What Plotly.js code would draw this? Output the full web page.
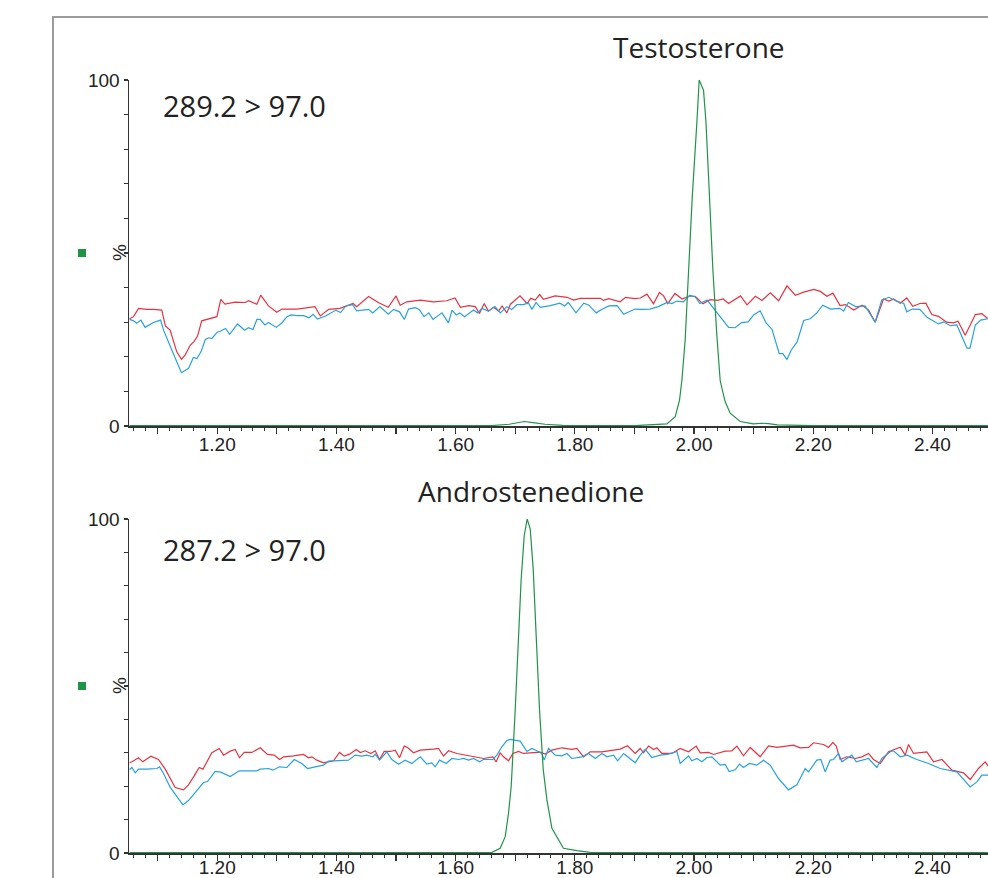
<!DOCTYPE html>
<html>
<head>
<meta charset="utf-8">
<script src="https://cdn.plot.ly/plotly-3.0.1.min.js"></script>
<style>
  html, body { margin: 0; padding: 0; background: #fff; }
  #chart { width: 988px; height: 878px; }
</style>
</head>
<body>
<div id="chart"></div>
<script>
// ---------- Data (retention time in min, intensity in %) ----------
const titles = ["Testosterone", "Androstenedione"];
const transitions = ["289.2 > 97.0", "287.2 > 97.0"];
const xTickVals = [1.1, 1.2, 1.3, 1.4, 1.5, 1.6, 1.7, 1.8, 1.9, 2.0, 2.1, 2.2, 2.3, 2.4];
const xTickText = ["", "1.20", "", "1.40", "", "1.60", "", "1.80", "", "2.00", "", "2.20", "", "2.40"];
const yTickVals = [0, 10, 20, 30, 40, 50, 60, 70, 80, 90, 100];
const yTickText = ["0", "", "", "", "", "", "", "", "", "", "100"];

// Testosterone panel
const topRedT = [1.053,1.0596,1.068,1.082,1.093,1.107,1.113,1.121,1.132,1.140,1.146,1.155,1.161,1.167,1.174,1.191,1.1995,1.206,1.213,1.230,1.247,1.2525,1.2666,1.273,1.286,1.300,1.3085,1.334,1.364,1.373,1.387,1.406,1.428,1.434,1.454,1.471,1.487,1.500,1.507,1.518,1.541,1.563,1.585,1.599,1.608,1.622,1.633,1.640,1.648,1.655,1.664,1.672,1.678,1.686,1.692,1.708,1.720,1.726,1.7335,1.741,1.7475,1.767,1.787,1.798,1.809,1.843,1.848,1.857,1.876,1.885,1.901,1.910,1.921,1.932,1.942,1.949,1.956,1.968,1.980,1.991,2.002,2.015,2.027,2.039,2.049,2.058,2.078,2.089,2.103,2.114,2.128,2.142,2.156,2.170,2.184,2.201,2.212,2.223,2.233,2.245,2.254,2.268,2.282,2.293,2.304,2.318,2.327,2.335,2.346,2.357,2.367,2.379,2.389,2.399,2.410,2.424,2.435,2.443,2.455,2.472,2.483,2.493];
const topRedV = [31.0,31.6,34.0,33.7,33.7,33.5,28.9,27.7,21.5,19.3,20.5,23.4,24.4,26.0,30.4,31.3,31.6,36.6,35.2,35.8,35.7,36.2,35.2,37.8,34.7,32.9,33.8,33.8,34.5,31.8,33.7,34.0,35.4,34.5,37.4,35.6,34.3,37.6,34.9,35.9,36.4,35.9,36.2,37.0,34.3,34.8,34.5,32.5,35.4,33.2,34.3,33.2,34.7,32.7,35.2,37.6,35.4,36.9,36.4,38.0,36.6,37.6,37.2,36.4,36.9,36.9,36.3,36.8,35.9,37.2,36.8,37.0,38.1,35.3,38.6,37.6,35.4,38.3,36.7,37.5,37.5,35.3,36.5,36.3,36.7,35.4,37.6,35.0,37.5,36.3,38.5,36.2,40.5,37.8,38.7,39.5,38.9,37.5,38.4,34.8,35.1,33.5,34.9,33.5,30.0,36.7,36.1,36.7,35.5,37.0,34.6,35.4,35.5,32.2,31.7,30.0,29.8,30.3,26.2,32.2,32.5,31.0];

const topBlueT = [1.053,1.0596,1.065,1.072,1.079,1.093,1.105,1.110,1.124,1.140,1.152,1.160,1.166,1.173,1.180,1.186,1.191,1.200,1.205,1.214,1.221,1.234,1.246,1.2525,1.260,1.2666,1.272,1.280,1.286,1.299,1.308,1.317,1.324,1.334,1.345,1.354,1.361,1.368,1.382,1.399,1.407,1.416,1.427,1.434,1.454,1.461,1.473,1.487,1.496,1.506,1.514,1.521,1.532,1.539,1.547,1.555,1.562,1.577,1.588,1.594,1.601,1.607,1.615,1.630,1.637,1.644,1.655,1.666,1.675,1.686,1.694,1.703,1.714,1.722,1.728,1.735,1.742,1.759,1.775,1.783,1.789,1.802,1.815,1.823,1.836,1.845,1.857,1.871,1.882,1.901,1.913,1.926,1.940,1.955,1.963,1.971,1.982,1.993,2.002,2.010,2.022,2.044,2.058,2.069,2.080,2.091,2.100,2.111,2.121,2.131,2.143,2.149,2.156,2.163,2.173,2.184,2.195,2.206,2.216,2.229,2.245,2.251,2.259,2.271,2.287,2.304,2.315,2.327,2.341,2.352,2.357,2.366,2.379,2.391,2.410,2.419,2.430,2.441,2.448,2.458,2.463,2.472,2.481,2.493];
const topBlueV = [30.8,30.4,29.7,30.6,28.5,29.9,30.6,27.7,21.9,15.4,16.7,19.8,19.5,21.5,25.0,25.5,25.3,27.1,27.4,28.2,26.5,29.5,27.7,28.4,27.9,30.8,30.8,29.2,29.9,28.5,29.7,31.6,32.1,31.9,31.9,31.3,32.3,30.9,31.8,33.5,32.8,34.7,35.1,33.3,33.7,32.7,34.5,32.3,33.7,33.0,30.8,33.8,34.2,33.7,31.6,32.7,30.8,32.7,29.8,33.5,32.1,32.7,31.6,33.5,32.7,34.0,33.2,34.5,32.7,34.5,33.7,35.1,35.1,35.6,33.7,35.7,34.3,34.8,35.5,34.7,35.7,32.7,35.5,35.0,32.7,33.7,34.7,34.8,32.3,33.8,33.7,33.8,34.5,35.7,35.4,36.1,35.9,37.8,37.3,35.4,36.4,31.6,28.5,28.4,29.9,30.1,32.1,33.3,29.8,27.9,20.9,20.9,19.2,21.9,24.3,30.5,31.0,32.7,34.9,33.8,34.0,33.2,35.7,34.5,34.7,30.0,36.4,37.2,36.0,35.4,33.0,33.8,33.7,31.4,29.5,30.1,29.0,29.2,26.3,22.5,22.5,29.2,30.6,31.0];

const topGreenT = [1.053,1.30,1.50,1.66,1.69,1.70,1.715,1.73,1.75,1.78,1.90,1.9545,1.9685,1.9757,1.9797,1.9852,1.9908,1.997,2.0049,2.0087,2.016,2.020,2.0255,2.0317,2.0384,2.044,2.0523,2.0607,2.0775,2.0993,2.115,2.125,2.14,2.20,2.35,2.493];
const topGreenV = [0.1,0.1,0.1,0.1,0.5,0.9,1.3,1.0,0.5,0.2,0.1,0.6,2.7,7.5,13.3,25,45,66,88,100,97,88,68,45,26,13,7,3.7,1.3,0.6,0.8,0.7,0.3,0.1,0.1,0.1];

// Androstenedione panel
const botRedT = [1.053,1.0569,1.068,1.075,1.0888,1.1015,1.1128,1.121,1.1295,1.1435,1.1518,1.1614,1.1698,1.176,1.191,1.2034,1.2106,1.2218,1.2302,1.2374,1.2453,1.2582,1.2722,1.2844,1.2956,1.3046,1.3113,1.328,1.3448,1.3532,1.3588,1.3672,1.3784,1.3951,1.4052,1.4131,1.4221,1.4332,1.44,1.4483,1.4578,1.4651,1.4723,1.4802,1.4903,1.4987,1.5059,1.5138,1.5194,1.5294,1.5406,1.5629,1.5713,1.5797,1.5881,1.6021,1.6189,1.6301,1.6468,1.6625,1.6681,1.6748,1.6804,1.6888,1.6961,1.7056,1.7139,1.7252,1.7419,1.7503,1.7616,1.7783,1.7951,1.8035,1.8146,1.8258,1.8455,1.8565,1.8762,1.8884,1.9013,1.9097,1.9153,1.9237,1.9321,1.9377,1.9461,1.9629,1.9768,1.9908,2.0037,2.0104,2.0243,2.0327,2.0523,2.0636,2.072,2.083,2.0943,2.111,2.125,2.1391,2.153,2.1669,2.1781,2.1921,2.2005,2.2173,2.2257,2.233,2.2386,2.2453,2.2565,2.2705,2.2817,2.2928,2.3012,2.3124,2.3264,2.3376,2.346,2.3544,2.3599,2.3683,2.3795,2.3907,2.4019,2.416,2.4327,2.4522,2.4634,2.4773,2.4886,2.4936];
const botRedV = [27.0,27.3,28.5,27.3,29.0,28.0,25.1,22.4,19.6,18.9,20.4,23.1,25.6,25.1,30.0,31.3,29.3,30.5,31.0,28.5,30.1,30.1,31.5,29.5,29.3,28.0,28.8,29.1,29.5,28.5,28.8,27.8,27.0,27.6,30.1,29.0,29.6,31.0,30.1,30.6,29.8,30.6,28.0,30.4,30.4,30.8,28.5,32.0,31.6,30.0,30.8,31.1,31.3,29.0,30.6,29.8,29.3,28.8,28.3,28.8,27.3,30.0,28.8,27.6,29.8,30.4,29.8,30.0,30.2,29.6,30.8,31.5,31.0,31.3,28.8,30.3,30.3,30.6,31.1,32.1,29.8,31.3,30.0,32.0,31.0,31.5,29.8,29.8,31.3,30.3,32.0,30.0,30.1,29.5,30.5,30.6,32.0,29.1,31.6,28.8,32.1,31.6,32.0,32.3,31.5,31.6,33.0,32.5,31.6,33.1,32.0,28.0,28.8,28.3,28.8,29.8,28.0,26.8,30.3,31.0,31.7,29.3,32.5,29.8,30.0,30.3,27.3,28.0,24.8,24.0,22.0,25.3,27.3,26.0];

const botBlueT = [1.053,1.0569,1.0625,1.068,1.082,1.0988,1.1032,1.1099,1.121,1.1323,1.1424,1.1518,1.1658,1.177,1.1837,1.1966,1.2061,1.2218,1.2369,1.2666,1.2722,1.2861,1.2934,1.3046,1.3169,1.3292,1.342,1.3516,1.3644,1.3784,1.3868,1.3951,1.4063,1.4203,1.4315,1.4427,1.4511,1.4612,1.4651,1.4723,1.4846,1.493,1.5042,1.5154,1.5266,1.5406,1.5518,1.5601,1.5657,1.573,1.5842,1.5937,1.6049,1.6133,1.6217,1.6301,1.6402,1.6468,1.6625,1.6692,1.6776,1.686,1.6916,1.7084,1.7196,1.728,1.7363,1.7447,1.7487,1.7559,1.7671,1.7783,1.7867,1.7951,1.8119,1.8231,1.8343,1.8455,1.8539,1.8651,1.8718,1.8819,1.8903,1.9013,1.9097,1.9181,1.9293,1.9433,1.9573,1.9713,1.9768,1.9908,1.9964,2.0048,2.0132,2.0216,2.030,2.044,2.0523,2.059,2.0691,2.0764,2.083,2.0931,2.1054,2.1166,2.1278,2.1418,2.1586,2.1726,2.1866,2.1921,2.2061,2.2128,2.2201,2.2285,2.2341,2.2425,2.2481,2.2649,2.2722,2.2817,2.2928,2.3068,2.3152,2.3292,2.3348,2.346,2.3572,2.3739,2.3935,2.4131,2.4299,2.4411,2.4634,2.4746,2.483,2.4936];
const botBlueV = [25.0,25.6,24.0,25.1,25.1,25.3,25.8,23.8,19.7,16.9,14.4,15.7,18.7,21.1,21.4,24.4,24.2,22.9,24.6,24.6,25.1,25.3,24.8,25.8,25.6,28.0,26.8,25.3,25.8,26.3,27.5,27.6,27.8,27.8,29.3,29.0,29.3,28.8,29.6,27.8,30.3,28.0,26.6,27.8,26.8,28.8,26.6,27.0,25.8,27.8,26.8,28.3,28.0,28.3,27.8,28.3,27.3,28.0,28.0,29.3,31.8,33.7,34.0,33.5,30.4,31.3,30.6,29.8,27.8,31.3,29.3,29.1,29.8,28.3,28.8,29.8,28.3,29.8,28.8,29.3,27.6,29.8,28.6,27.0,29.3,31.0,28.6,29.3,29.6,30.4,26.8,29.1,27.6,28.3,27.3,28.6,28.8,26.3,26.5,24.4,24.9,26.6,25.6,26.8,26.3,27.8,26.3,22.3,18.9,20.4,25.3,24.3,27.8,28.0,24.3,27.8,28.0,29.8,27.3,29.3,27.3,27.8,28.3,25.6,28.3,30.3,30.6,28.8,29.3,28.0,26.8,25.3,24.8,24.3,19.8,21.3,23.3,23.3];

const botGreenT = [1.053,1.30,1.50,1.62,1.6413,1.6609,1.6748,1.6832,1.6888,1.6933,1.700,1.705,1.710,1.7151,1.7201,1.7252,1.7302,1.7352,1.7408,1.747,1.7532,1.7616,1.770,1.781,1.8035,1.8258,1.90,2.10,2.30,2.493];
const botGreenV = [0.1,0.1,0.1,0.1,0.1,0.2,1.4,4.9,11.9,20,42.8,62,82,95,100,97,85,65,42.8,25,15.9,7.4,4.9,1.4,0.7,0.2,0.1,0.1,0.1,0.1];

// ---------- Styling ----------
const RED = "#e8323f", BLUE = "#27a2df", GREEN = "#1f9447";
const W = 988, H = 878, L = 129;
const px = x => (x - L) / (W - L);      // pixel -> paper x
const py = y => 1 - y / H;               // pixel -> paper y

function line(x, y, color, xa, ya) {
  return { x: x, y: y, type: "scatter", mode: "lines", xaxis: xa, yaxis: ya,
           line: { color: color, width: 1.2 }, hoverinfo: "skip", showlegend: false };
}

const traces = [
  line(topRedT, topRedV, RED, "x", "y"),
  line(topBlueT, topBlueV, BLUE, "x", "y"),
  line(topGreenT, topGreenV, GREEN, "x", "y"),
  line(botRedT, botRedV, RED, "x2", "y2"),
  line(botBlueT, botBlueV, BLUE, "x2", "y2"),
  line(botGreenT, botGreenV, GREEN, "x2", "y2")
];

const tickFont = { family: "Liberation Sans, Arial, sans-serif", size: 19, color: "#222" };
const xRange = [1.052, 1.052 + (W - L) / 596];

function xAxis(anchor, standoff) {
  return {
    anchor: anchor, range: xRange, domain: [0, 1],
    tickmode: "array", tickvals: xTickVals, ticktext: xTickText,
    ticks: "outside", ticklen: 6, tickwidth: 1.2, tickcolor: "#333",
    minor: { dtick: 0.02, tick0: 0, ticks: "outside", ticklen: 3, tickwidth: 1, tickcolor: "#333" },
    ticklabelstandoff: standoff,
    showline: true, linecolor: "#333", linewidth: 1.5,
    showgrid: false, zeroline: false, tickfont: tickFont, automargin: false, fixedrange: true
  };
}
function yAxis(anchor, top, bottom) {
  return {
    anchor: anchor, range: [0, 100], domain: [py(bottom), py(top)],
    tickmode: "array", tickvals: yTickVals, ticktext: yTickText,
    ticks: "outside", ticklen: 4, tickwidth: 1.2, tickcolor: "#333",
    showline: true, linecolor: "#333", linewidth: 1.5,
    showgrid: false, zeroline: false, tickfont: tickFont, automargin: false, fixedrange: true
  };
}

const titleFont = { family: "Open Sans, Noto Sans, sans-serif", size: 28, color: "#222" };
const labelFont = { family: "Open Sans, Noto Sans, sans-serif", size: 29, color: "#222" };

const annotations = [
  { text: titles[0], x: px(698.5), y: py(47), xref: "paper", yref: "paper", xanchor: "center", yanchor: "middle", showarrow: false, font: titleFont },
  { text: titles[1], x: px(530.5), y: py(491), xref: "paper", yref: "paper", xanchor: "center", yanchor: "middle", showarrow: false, font: titleFont },
  { text: transitions[0], x: px(161), y: py(106), xref: "paper", yref: "paper", xanchor: "left", yanchor: "middle", showarrow: false, font: labelFont },
  { text: transitions[1], x: px(161), y: py(549), xref: "paper", yref: "paper", xanchor: "left", yanchor: "middle", showarrow: false, font: labelFont },
  { text: "%", x: px(119), y: py(253), xref: "paper", yref: "paper", xanchor: "center", yanchor: "middle", textangle: -90, showarrow: false, font: tickFont },
  { text: "%", x: px(119), y: py(686), xref: "paper", yref: "paper", xanchor: "center", yanchor: "middle", textangle: -90, showarrow: false, font: tickFont }
];

const shapes = [
  // outer frame (left and top edges)
  { type: "line", xref: "paper", yref: "paper", x0: px(53), x1: px(53), y0: py(878), y1: py(16), line: { color: "#9b9b9b", width: 2 } },
  { type: "line", xref: "paper", yref: "paper", x0: px(52), x1: px(990), y0: py(17), y1: py(17), line: { color: "#9b9b9b", width: 2 } },
  // green markers
  { type: "rect", xref: "paper", yref: "paper", x0: px(78), x1: px(86), y0: py(257), y1: py(249), fillcolor: GREEN, line: { width: 0 } },
  { type: "rect", xref: "paper", yref: "paper", x0: px(78), x1: px(86), y0: py(690), y1: py(682), fillcolor: GREEN, line: { width: 0 } }
];

const layout = {
  width: W, height: H,
  margin: { l: L, r: 0, t: 0, b: 0, pad: 0 },
  paper_bgcolor: "#ffffff", plot_bgcolor: "#ffffff",
  showlegend: false,
  xaxis: xAxis("y", -5), yaxis: yAxis("x", 80, 426),
  xaxis2: xAxis("y2", -9), yaxis2: yAxis("x2", 519, 853),
  annotations: annotations, shapes: shapes
};

Plotly.newPlot("chart", traces, layout, { staticPlot: true, displayModeBar: false });
</script>
</body>
</html>
